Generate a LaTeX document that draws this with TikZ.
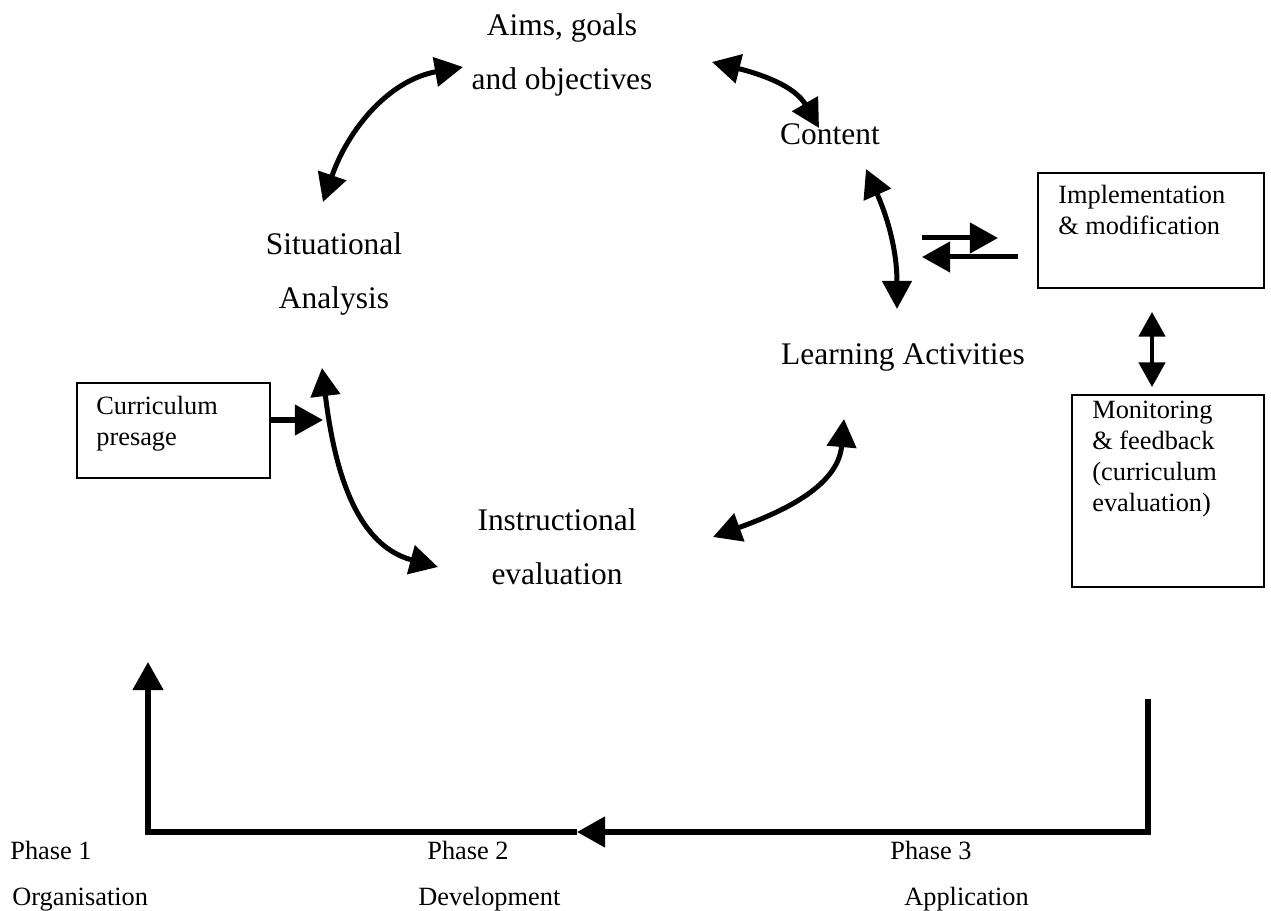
\documentclass[tikz,border=0pt]{standalone}
\usepackage{fontspec}
\setmainfont{Liberation Serif}
\usetikzlibrary{arrows.meta}
\tikzstyle{stage}=[align=center, font=\fontsize{17.9}{30.7}\selectfont, inner sep=0pt]
\tikzstyle{box}=[rectangle, draw, line width=0.9pt, inner sep=0pt, anchor=north west]
\tikzstyle{boxtext}=[align=left, font=\fontsize{15}{17.6}\selectfont, inner sep=0pt, anchor=north west]
\tikzstyle{phase}=[font=\fontsize{15}{17.6}\selectfont, inner sep=0pt, anchor=base west]
\tikzstyle{link}=[line width=2.85pt, >={Triangle[length=16pt,width=16.5pt]}, <->]
\tikzstyle{flow}=[line width=2.85pt, >={Triangle[length=16pt,width=17pt]}, ->]

\begin{document}
\begin{tikzpicture}[x=0.02cm,y=-0.02cm]
  \useasboundingbox (0,0) rectangle (1271,911);

  \node[stage] (aims) at (562,55) {Aims, goals\\and objectives};
  \node[stage] (content) at (830,134) {Content};
  \node[stage] (situation) at (334,274) {Situational\\Analysis};
  \node[stage] (learning) at (903,357) {Learning Activities};
  \node[stage] (instruct) at (557,547) {Instructional\\evaluation};

  \node[box, minimum width=3.86cm, minimum height=1.9cm] (presage) at (76,382) {};
  \node[boxtext] (presagetext) at (96,396) {Curriculum\\presage};
  \node[box, minimum width=4.52cm, minimum height=2.3cm] (implement) at (1037,172) {};
  \node[boxtext] (implementtext) at (1058,185) {Implementation\\\& modification};
  \node[box, minimum width=3.84cm, minimum height=3.84cm] (monitor) at (1071,394) {};
  \node[boxtext] (monitortext) at (1092,401) {Monitoring\\\& feedback\\(curriculum\\evaluation)};

  \coordinate (aims-w) at (463,67);
  \coordinate (aims-e) at (712,62);
  \coordinate (content-n) at (819,128);
  \coordinate (content-s) at (866,169);
  \coordinate (learning-n) at (897,309);
  \coordinate (learning-s) at (844,419);
  \coordinate (instruct-e) at (713,537);
  \coordinate (instruct-w) at (438,567);
  \coordinate (situation-n) at (323,202);
  \coordinate (situation-s) at (322,368);
  \coordinate (presage-in) at (323,420);

  \draw[link] (situation-n) to[out=71,in=190] (aims-w);
  \draw[link] (aims-e) to[out=-14,in=120] (content-n);
  \draw[link] (content-s) to[out=-66,in=90] (learning-n);
  \draw[link] (learning-s) to[out=-95,in=20] (instruct-e);
  \draw[link] (situation-s) to[out=-83,in=165] (instruct-w);
  \draw[flow] (presage.east |- presage-in) -- (presage-in);

  \coordinate (to-impl-a) at (922,238);
  \coordinate (to-impl-b) at (998,238);
  \coordinate (from-impl-a) at (1018,257);
  \coordinate (from-impl-b) at (922,257);
  \draw[flow] (to-impl-a) -- (to-impl-b);
  \draw[flow] (from-impl-a) -- (from-impl-b);

  \coordinate (implement-s) at (1152,312);
  \coordinate (monitor-n) at (1152,387);
  \draw[link, line width=2pt, >={Triangle[length=14pt,width=15pt]}] (implement-s) -- (monitor-n);

  \coordinate (phase3-top) at (1148,699);
  \coordinate (phase3-end) at (1148,832);
  \coordinate (phase2-mid) at (577,832);
  \coordinate (phase1-end) at (148,832);
  \coordinate (phase1-top) at (148,662);
  \draw[flow, line width=3pt] (phase3-top) -- (phase3-end) -- (phase2-mid);
  \draw[flow, line width=3pt] (phase2-mid) -- (phase1-end) -- (phase1-top);

  \node[phase] (phase1) at (10,859) {Phase 1};
  \node[phase] (organisation) at (12,905) {Organisation};
  \node[phase] (phase2) at (427,859) {Phase 2};
  \node[phase] (development) at (418,905) {Development};
  \node[phase] (phase3) at (890,859) {Phase 3};
  \node[phase] (application) at (904,905) {Application};
\end{tikzpicture}
\end{document}
